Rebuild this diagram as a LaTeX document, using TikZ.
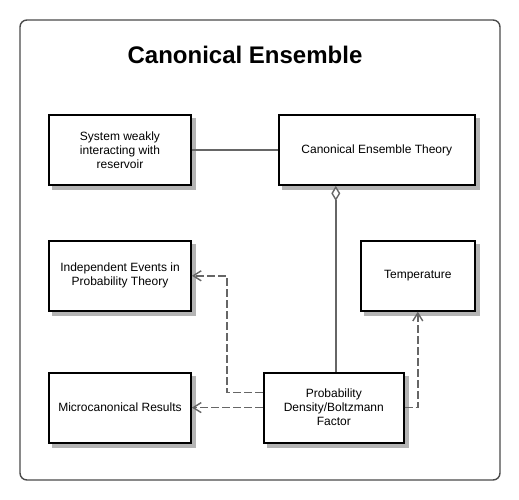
\documentclass[tikz,border=0pt]{standalone}
\usepackage{fontspec}
\setsansfont{Liberation Sans}
\usetikzlibrary{arrows.meta, positioning, backgrounds}
\definecolor{framegray}{HTML}{4A4A4A}
\definecolor{linkgray}{HTML}{666666}
\definecolor{shadowgray}{HTML}{B4B4B4}

\begin{document}
\begin{tikzpicture}[
        node distance=54pt and 86pt,
        font=\sffamily\fontsize{12}{14}\selectfont,
        concept/.style={
            rectangle,
            draw=black,
            fill=white,
            line width=1.8pt,
            align=center,
            minimum height=70pt,
            inner sep=4pt
        },
        link/.style={
            draw=linkgray,
            line width=1.4pt
        },
        dep/.style={
            link,
            dash pattern=on 8pt off 3pt,
            -{Straight Barb[length=8pt, width=10pt]}
        }
    ]

    \useasboundingbox (0,0) rectangle (519pt,-500pt);

    % Outer frame and title
    \draw[draw=framegray, line width=1.4pt, rounded corners=7pt] (20pt,-20pt) rectangle (500pt,-480pt);
    \node[font=\sffamily\bfseries\fontsize{24}{28}\selectfont] (title) at (245pt,-55pt) {Canonical Ensemble};

    % Left column
    \node[concept, minimum width=142pt] (system) at (120pt,-150pt) {System weakly \\ interacting with \\ reservoir};
    \node[concept, minimum width=142pt, below=54pt of system] (indep) {Independent Events in \\ Probability Theory};
    \node[concept, minimum width=142pt, below=60pt of indep] (micro) {Microcanonical Results};

    % Right column
    \node[concept, minimum width=196pt, right=86pt of system] (theory) {Canonical Ensemble Theory};
    \node[concept, minimum width=114pt, below=54pt of theory.south east, anchor=north east] (temp) {Temperature};
    \node[concept, minimum width=140pt, right=71pt of micro] (prob) {Probability \\ Density/Boltzmann \\ Factor};

    % Shadows
    \begin{scope}[on background layer]
        \foreach \n in {system, indep, micro, theory, temp, prob}
            \fill[shadowgray] ([shift={(4pt,-4pt)}]\n.south west) rectangle ([shift={(4pt,-4pt)}]\n.north east);
    \end{scope}

    % Connectors
    \draw[link] (system.east) -- (theory.west);
    \draw[link, {Diamond[open, fill=white, length=15pt, width=9pt]}-] ([xshift=2pt]theory.south -| prob.north) -- ([xshift=2pt]prob.north);
    \draw[dep] ([yshift=15pt]prob.west) -- ++(-36pt,0) |- (indep.east);
    \draw[dep] (prob.west) -- (micro.east);
    \draw[dep] (prob.east) -| (temp.south);

\end{tikzpicture}
\end{document}
